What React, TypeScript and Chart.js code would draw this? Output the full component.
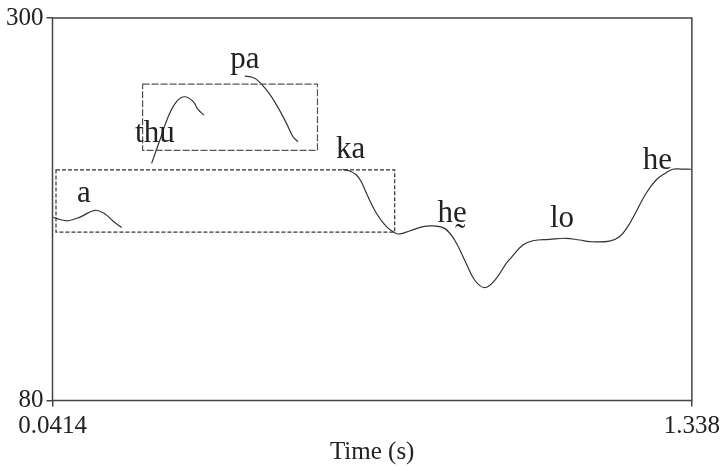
import React, { useEffect, useRef } from "react";
import { Chart, registerables } from "chart.js";

Chart.register(...registerables);

// Axis ticks & title
const xTickValues = [0.0414, 1.338];
const xTickLabels = ["0.0414", "1.338"];
const yTickValues = [80, 300];
const yTickLabels = ["80", "300"];
const xTitle = "Time (s)";

// Pitch contour segments (time in s, pitch in Hz)
const aTime = [0.043, 0.0566, 0.0734, 0.0971, 0.1275, 0.1478, 0.164, 0.1816];
const aPitch = [185.4, 184.1, 183.4, 185.5, 189.4, 187.3, 183.2, 179.5];

const thuTime = [0.2424, 0.2592, 0.276, 0.293, 0.3098, 0.3267, 0.3368, 0.3483];
const thuPitch = [216.4, 229.8, 243.2, 251.9, 254.7, 251.9, 247.3, 244.2];

const paTime = [0.4314, 0.4435, 0.4551, 0.4754, 0.4956, 0.5159, 0.5292, 0.5394];
const paPitch = [266.6, 266.1, 264.7, 258.6, 250.0, 239.4, 231.7, 228.9];

const mainTime = [
  0.6299, 0.6441, 0.6577, 0.6678, 0.678, 0.6982, 0.7185, 0.7353, 0.7454, 0.7657,
  0.7926, 0.8129, 0.8366, 0.8568, 0.8771, 0.8974, 0.9176, 0.9379, 0.9616, 0.9717,
  0.9952, 1.0155, 1.0493, 1.0831, 1.1101, 1.137, 1.1709, 1.1911, 1.2079, 1.225,
  1.2452, 1.2655, 1.2857, 1.2991, 1.3161, 1.3364,
];
const mainPitch = [
  212.9, 212.0, 209.7, 205.7, 199.2, 187.7, 180.0, 176.5, 175.8, 177.5,
  180.0, 180.4, 179.0, 172.3, 160.8, 149.3, 144.9, 149.0, 158.9, 162.2,
  169.4, 171.9, 172.7, 173.3, 172.3, 171.3, 171.7, 174.2, 180.0, 188.6,
  199.2, 206.8, 211.0, 213.0, 213.1, 213.0,
];

// Syllable labels (centre time, baseline pitch)
const sylText = ["a", "thu", "pa", "ka", "h\u1E1B", "lo", "he"];
const sylTime = [0.1052, 0.2491, 0.4314, 0.6461, 0.8518, 1.0746, 1.2681];
const sylPitch = [194.3, 228.9, 271.1, 219.3, 182.8, 180.0, 213.0];

// Dashed boxes
const boxStart = [0.0485, 0.2241];
const boxEnd = [0.7353, 0.5787];
const boxLow = [176.9, 223.9];
const boxHigh = [212.6, 262.0];

const FONT = "'Liberation Serif', 'Times New Roman', 'DejaVu Serif', serif";

const toPoints = (xs: number[], ys: number[]) => xs.map((x, i) => ({ x, y: ys[i] }));

export default function App() {
  const ref = useRef<HTMLCanvasElement>(null);

  useEffect(() => {
    const annotate = {
      id: "annotate",
      afterDatasetsDraw(chart: any) {
        const { ctx, chartArea, scales } = chart;
        const xs = scales.x;
        const ys = scales.y;
        ctx.save();
        // boxes
        const dashes = [[4, 2], [7, 2]];
        const colors = ["#333", "#555"];
        for (let i = 0; i < boxStart.length; i++) {
          const x0 = xs.getPixelForValue(boxStart[i]);
          const x1 = xs.getPixelForValue(boxEnd[i]);
          const y0 = ys.getPixelForValue(boxHigh[i]);
          const y1 = ys.getPixelForValue(boxLow[i]);
          ctx.setLineDash(dashes[i]);
          ctx.strokeStyle = colors[i];
          ctx.lineWidth = 1.2;
          ctx.strokeRect(x0, y0, x1 - x0, y1 - y0);
        }
        ctx.setLineDash([]);
        // frame
        ctx.strokeStyle = "#444";
        ctx.lineWidth = 1.5;
        ctx.strokeRect(
          chartArea.left,
          chartArea.top,
          chartArea.right - chartArea.left,
          chartArea.bottom - chartArea.top
        );
        // syllable labels
        ctx.fillStyle = "#222";
        ctx.font = `31px ${FONT}`;
        ctx.textAlign = "center";
        ctx.textBaseline = "alphabetic";
        for (let i = 0; i < sylText.length; i++) {
          ctx.fillText(
            sylText[i],
            xs.getPixelForValue(sylTime[i]),
            ys.getPixelForValue(sylPitch[i])
          );
        }
        ctx.restore();
      },
    };

    const lineStyle = {
      borderColor: "#333",
      borderWidth: 1.2,
      pointRadius: 0,
      fill: false,
      tension: 0.4,
    };

    const chart = new Chart(ref.current!, {
      type: "line",
      data: {
        datasets: [
          { data: toPoints(aTime, aPitch), ...lineStyle },
          { data: toPoints(thuTime, thuPitch), ...lineStyle },
          { data: toPoints(paTime, paPitch), ...lineStyle },
          { data: toPoints(mainTime, mainPitch), ...lineStyle },
        ],
      },
      options: {
        animation: false,
        responsive: true,
        maintainAspectRatio: false,
        layout: { padding: { top: 18, right: 32.5, left: 0, bottom: 0 } },
        plugins: { legend: { display: false }, tooltip: { enabled: false } },
        scales: {
          x: {
            type: "linear",
            min: xTickValues[0],
            max: xTickValues[1],
            afterBuildTicks: (s: any) => {
              s.ticks = xTickValues.map((v) => ({ value: v }));
            },
            afterFit: (s: any) => {
              s.height = 70.5;
            },
            ticks: {
              autoSkip: false,
              maxRotation: 0,
              padding: 5,
              color: "#222",
              font: { family: FONT, size: 25 },
              callback: (v: any) => xTickLabels[xTickValues.indexOf(Number(v))] ?? "",
            },
            grid: { drawOnChartArea: false, tickLength: 6, color: "#444", lineWidth: 1.5 },
            border: { display: false },
            title: {
              display: true,
              text: xTitle,
              color: "#222",
              font: { family: FONT, size: 25 },
              padding: { top: 0, bottom: 4 },
            },
          },
          y: {
            type: "linear",
            min: yTickValues[0],
            max: yTickValues[1],
            afterBuildTicks: (s: any) => {
              s.ticks = yTickValues.map((v) => ({ value: v }));
            },
            afterFit: (s: any) => {
              s.width = 52.5;
            },
            ticks: {
              autoSkip: false,
              padding: 3,
              color: "#222",
              font: { family: FONT, size: 25 },
              callback: (v: any) => yTickLabels[yTickValues.indexOf(Number(v))] ?? "",
            },
            grid: { drawOnChartArea: false, tickLength: 6, color: "#444", lineWidth: 1.5 },
            border: { display: false },
          },
        },
      },
      plugins: [annotate],
    });
    return () => chart.destroy();
  }, []);

  return (
    <div
      style={{
        position: "fixed",
        left: 0,
        top: 0,
        width: 725,
        height: 471,
        background: "#fff",
      }}
    >
      <canvas ref={ref} />
    </div>
  );
}
